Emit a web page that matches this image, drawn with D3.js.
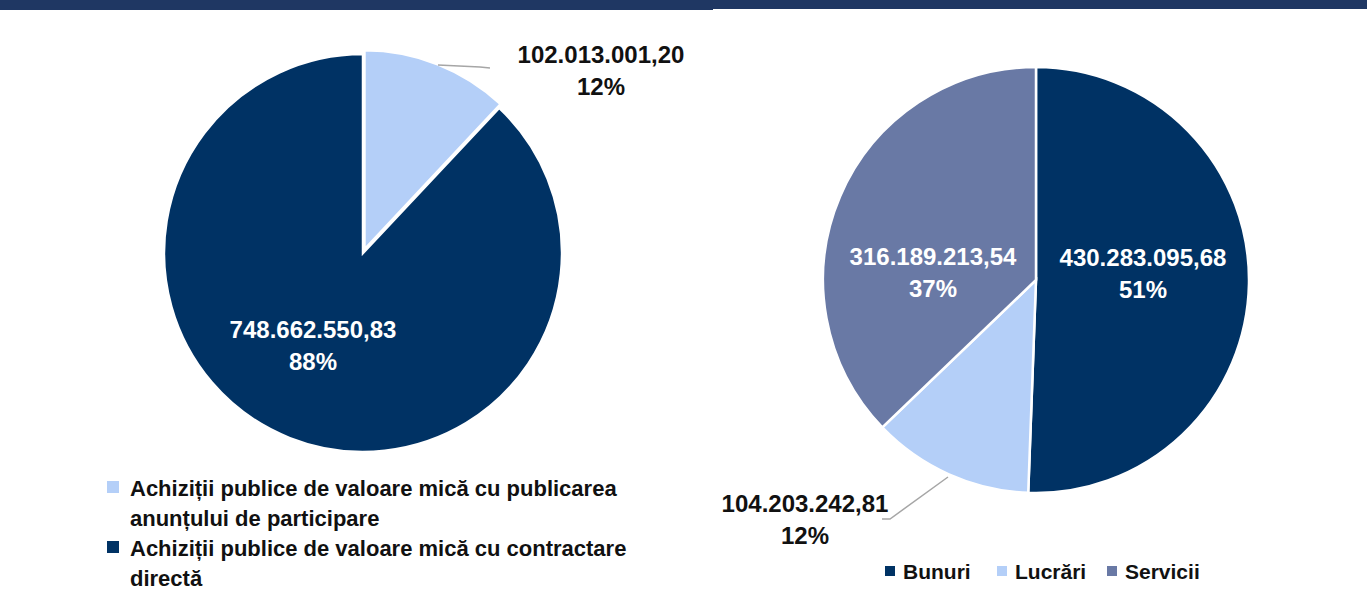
<!DOCTYPE html>
<html><head><meta charset="utf-8">
<script src="https://cdn.jsdelivr.net/npm/d3@7"></script>
<style>
html,body{margin:0;padding:0;background:#fff;}
svg{display:block;font-family:"Liberation Sans",Arial,sans-serif;}
</style></head>
<body>
<svg id="c" width="1367" height="600"></svg>
<script>
// ---- data ----
const leftCategories = ["Achiziții publice de valoare mică cu publicarea anunțului de participare",
                        "Achiziții publice de valoare mică cu contractare directă"];
const leftValues = [102013001.20, 748662550.83];
const leftLabels = ["102.013.001,20", "748.662.550,83"];
const leftPercents = ["12%", "88%"];
const leftLegendLines = [["Achiziții publice de valoare mică cu publicarea", "anunțului de participare"],
                         ["Achiziții publice de valoare mică cu contractare", "directă"]];

const rightCategories = ["Bunuri", "Lucrări", "Servicii"];
const rightValues = [430283095.68, 104203242.81, 316189213.54];
const rightLabels = ["430.283.095,68", "104.203.242,81", "316.189.213,54"];
const rightPercents = ["51%", "12%", "37%"];

// ---- styles ----
const navy = "#003264", light = "#B4CFF8", slate = "#6979A5";
const leftColors = [light, navy];
const rightColors = [navy, light, slate];
const svg = d3.select("#c");

// top bands
svg.append("rect").attr("x",0).attr("y",0).attr("width",713).attr("height",10).attr("fill","#1F3763");
svg.append("rect").attr("x",713).attr("y",0).attr("width",654).attr("height",9).attr("fill","#1F3763");

const pie = d3.pie().sort(null).value(d => d);

// ---- left pie ----
const L = {cx:363, cy:253, r:199};
const gL = svg.append("g").attr("transform",`translate(${L.cx},${L.cy})`);
const arcL = d3.arc().innerRadius(0).outerRadius(L.r);
const leftArcs = pie(leftValues);
gL.selectAll("path").data(leftArcs).join("path")
  .attr("d", arcL)
  .attr("fill",(d,i)=>leftColors[i])
  .attr("stroke","#fff").attr("stroke-width",2.5)
  .attr("transform",(d,i)=>{
    if(i!==0) return null;
    const a=(d.startAngle+d.endAngle)/2, off=4;
    return `translate(${Math.sin(a)*off},${-Math.cos(a)*off})`;
  });

// left labels (layout offsets relative to centre)
const leftLabelPos = [{x:238,y:-190, color:"#111", leader:[[75,-188],[117,-186],[127,-185]]},
                      {x:-50,y:85, color:"#fff"}];
leftArcs.forEach((d,i)=>{
  const p = leftLabelPos[i];
  if(p.leader){
    gL.append("path").attr("d", d3.line()(p.leader)).attr("fill","none")
      .attr("stroke","#A6A6A6").attr("stroke-width",1.5);
  }
  const t = gL.append("text").attr("text-anchor","middle").attr("fill",p.color)
    .attr("font-weight","bold").attr("font-size",24);
  t.append("tspan").attr("x",p.x).attr("y",p.y).text(leftLabels[i]);
  t.append("tspan").attr("x",p.x).attr("y",p.y+32).text(leftPercents[i]);
});

// left legend
const legL = svg.append("g");
leftLegendLines.forEach((lines,i)=>{
  const y0 = 496 + i*60;
  legL.append("rect").attr("x",107).attr("y",y0-15).attr("width",12).attr("height",12).attr("fill",leftColors[i]);
  lines.forEach((ln,j)=>{
    legL.append("text").attr("x",130).attr("y",y0+ j*30).attr("font-size",22)
      .attr("font-weight","bold").attr("fill","#111").text(ln);
  });
});

// ---- right pie ----
const R = {cx:1036, cy:280, r:213};
const gR = svg.append("g").attr("transform",`translate(${R.cx},${R.cy})`);
const arcR = d3.arc().innerRadius(0).outerRadius(R.r);
const rightArcs = pie(rightValues);
gR.selectAll("path").data(rightArcs).join("path")
  .attr("d", arcR)
  .attr("fill",(d,i)=>rightColors[i])
  .attr("stroke","#fff").attr("stroke-width",2.5);

const rightLabelPos = [{x:107,y:-14,color:"#fff"},
                       {x:-231,y:232,color:"#111", leader:[[-88,197],[-146,239],[-154,239]]},
                       {x:-103,y:-15,color:"#fff"}];
rightArcs.forEach((d,i)=>{
  const p = rightLabelPos[i];
  if(p.leader){
    gR.append("path").attr("d", d3.line()(p.leader)).attr("fill","none")
      .attr("stroke","#A6A6A6").attr("stroke-width",1.5);
  }
  const t = gR.append("text").attr("text-anchor","middle").attr("fill",p.color)
    .attr("font-weight","bold").attr("font-size",24);
  t.append("tspan").attr("x",p.x).attr("y",p.y).text(rightLabels[i]);
  t.append("tspan").attr("x",p.x).attr("y",p.y+32).text(rightPercents[i]);
});

// right legend
const legR = svg.append("g");
const legX = [885, 997, 1107];
rightCategories.forEach((c,i)=>{
  legR.append("rect").attr("x",legX[i]).attr("y",566).attr("width",10).attr("height",10).attr("fill",rightColors[i]);
  legR.append("text").attr("x",legX[i]+18).attr("y",579).attr("font-size",21)
    .attr("font-weight","bold").attr("fill","#111").text(c);
});
</script>
</body></html>
